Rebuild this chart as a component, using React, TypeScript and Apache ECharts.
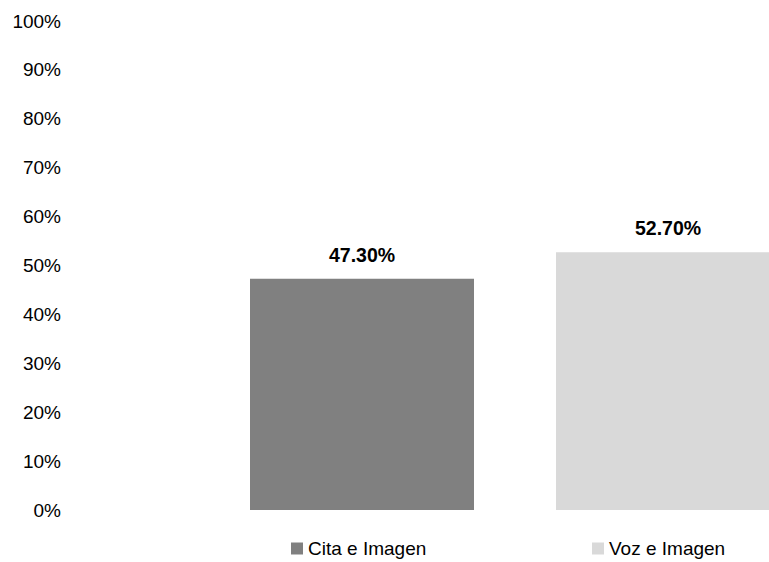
import React, { useEffect, useRef } from "react";
import * as echarts from "echarts";

const categories = ["Cita e Imagen", "Voz e Imagen"];
const seriesNames = ["Cita e Imagen", "Voz e Imagen"];
const seriesValues = [47.3, 52.7];
const seriesColors = ["#808080", "#d9d9d9"];
const yTicks = [0, 10, 20, 30, 40, 50, 60, 70, 80, 90, 100];

const FONT = "'Liberation Sans', Arial, sans-serif";

export default function App() {
  const ref = useRef<HTMLDivElement>(null);
  useEffect(() => {
    if (!ref.current) return;
    const chart = echarts.init(ref.current, null, { renderer: "svg" });
    chart.setOption({
      animation: false,
      textStyle: { fontFamily: FONT },
      grid: { left: 362, right: 101, top: 21, bottom: 52, containLabel: false },
      xAxis: {
        type: "category",
        data: categories,
        boundaryGap: false,
        show: false,
      },
      yAxis: {
        type: "value",
        min: yTicks[0],
        max: yTicks[yTicks.length - 1],
        interval: 10,
        axisLine: { show: false },
        axisTick: { show: false },
        splitLine: { show: false },
        axisLabel: {
          formatter: (v: number) => `${v}%`,
          fontSize: 19,
          color: "#000",
          fontFamily: FONT,
          margin: 301,
        },
      },
      legend: seriesNames.map((name, i) => ({
        data: [name],
        left: i === 0 ? 291 : 592,
        top: 539,
        icon: "rect",
        itemWidth: 12,
        itemHeight: 12,
        itemGap: 5,
        textStyle: { fontSize: 19, color: "#000", fontFamily: FONT, padding: [0, 0, 0, 0] },
        padding: 0,
        selectedMode: false,
      })),
      series: seriesNames.map((name, i) => ({
        name,
        type: "bar",
        barWidth: 224,
        barGap: "-100%",
        clip: false,
        itemStyle: { color: seriesColors[i] },
        data: categories.map((_, j) => (j === i ? seriesValues[i] : "-")),
        label: {
          show: true,
          position: "top",
          distance: 14,
          formatter: (p: any) => `${Number(p.value).toFixed(2)}%`,
          fontSize: 19.5,
          fontWeight: "bold",
          color: "#000",
          fontFamily: FONT,
        },
      })),
    });
    return () => chart.dispose();
  }, []);
  return (
    <div
      ref={ref}
      style={{ position: "fixed", left: 0, top: 0, width: 769, height: 562, background: "#fff" }}
    />
  );
}
